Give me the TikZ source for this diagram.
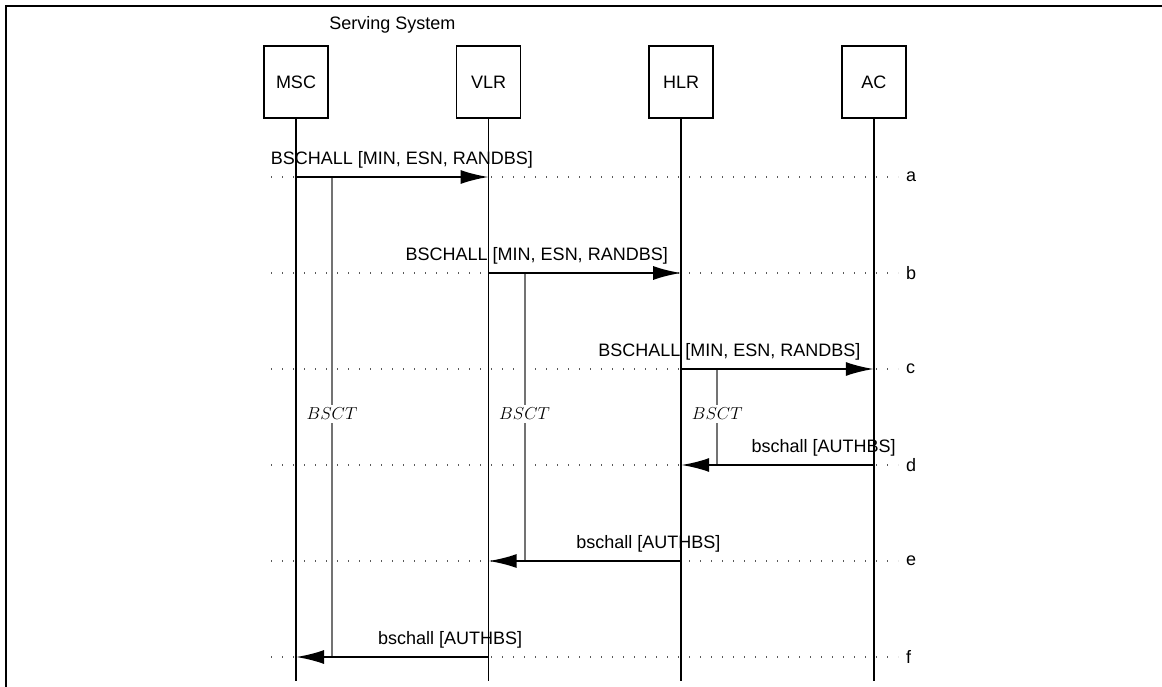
\documentclass[tikz,border=0pt]{standalone}
\usepackage{fontspec}
\setsansfont{Liberation Sans}
\usetikzlibrary{arrows.meta, positioning, calc}

\begin{document}
\begin{tikzpicture}[
    x=1pt, y=-1pt,
    node distance=127pt,
    font=\sffamily\fontsize{18}{21}\selectfont,
    every node/.style={align=center},
    msg/.style={-{Latex[length=28pt, width=14pt]}, line width=2.2pt},
]

% --- Style definitions ---
\tikzset{
    entity/.style = {draw, line width=1.6pt, minimum width=64pt, minimum height=72pt, inner sep=0pt},
    lifeline/.style = {line width=1.6pt},
    timer/.style = {line width=1.8pt, color=black!55},
    timerlbl/.style = {fill=white, inner sep=3pt, font=\fontsize{16.5}{19}\selectfont},
    guide/.style = {dash pattern=on 1.4pt off 9.6pt, line width=1.4pt, color=black!65},
    msglbl/.style = {above=8pt, inner sep=0pt},
    rowlbl/.style = {anchor=west, inner sep=0pt},
}

\useasboundingbox (0,0) rectangle (1162,687);

% --- Frame ---
\draw [line width=2.8pt] (6,687) -- (6,6) -- (1162,6);

% --- Entities ---
\node (msc) [entity] at (296,82) {MSC};
\node (vlr) [entity, right=of msc] {VLR};
\node (hlr) [entity, right=of vlr] {HLR};
\node (ac) [entity, right=of hlr] {AC};

\coordinate (srvmid) at ($(msc.north)!0.5!(vlr.north)$);
\node (serving) [above=8pt of srvmid] {Serving System};

% --- Rows ---
\coordinate (bottom) at (0,681);
\coordinate (tlbl) at (0,414);
\foreach \r/\y in {a/177, b/273, c/369, d/465, e/561, f/657} {
    \coordinate (row\r) at (0,\y);
    \draw [guide] (271,\y) -- (898,\y);
    \node (lbl-\r) [rowlbl] at (906,\y) {\r};
}

% --- Lifelines ---
\foreach \e in {msc, vlr, hlr, ac}
    \draw [lifeline] (\e.south) -- (\e.south |- bottom);

% --- Timers ---
\draw [timer] ($(msc |- rowa)+(36,0)$) -- ($(msc |- rowf)+(36,0)$);
\draw [timer] ($(vlr |- rowb)+(36,0)$) -- ($(vlr |- rowe)+(36,0)$);
\draw [timer] ($(hlr |- rowc)+(36,0)$) -- ($(hlr |- rowd)+(36,0)$);
\node (bsct-msc) [timerlbl] at ($(msc |- tlbl)+(36,0)$) {$BSCT$};
\node (bsct-vlr) [timerlbl] at ($(vlr |- tlbl)+(36,0)$) {$BSCT$};
\node (bsct-hlr) [timerlbl] at ($(hlr |- tlbl)+(36,0)$) {$BSCT$};

% --- Messages ---
\draw [msg] (msc |- rowa) -- (vlr |- rowa) node (m-a) [msglbl, pos=0.55] {BSCHALL [MIN, ESN, RANDBS]};
\draw [msg] (vlr |- rowb) -- (hlr |- rowb) node (m-b) [msglbl, pos=0.25] {BSCHALL [MIN, ESN, RANDBS]};
\draw [msg] (hlr |- rowc) -- (ac |- rowc) node (m-c) [msglbl, pos=0.25] {BSCHALL [MIN, ESN, RANDBS]};
\draw [msg] (ac |- rowd) -- (hlr |- rowd) node (m-d) [msglbl, pos=0.26] {bschall [AUTHBS]};
\draw [msg] (hlr |- rowe) -- (vlr |- rowe) node (m-e) [msglbl, pos=0.17] {bschall [AUTHBS]};
\draw [msg] (vlr |- rowf) -- (msc |- rowf) node (m-f) [msglbl, pos=0.2] {bschall [AUTHBS]};

\end{tikzpicture}
\end{document}
